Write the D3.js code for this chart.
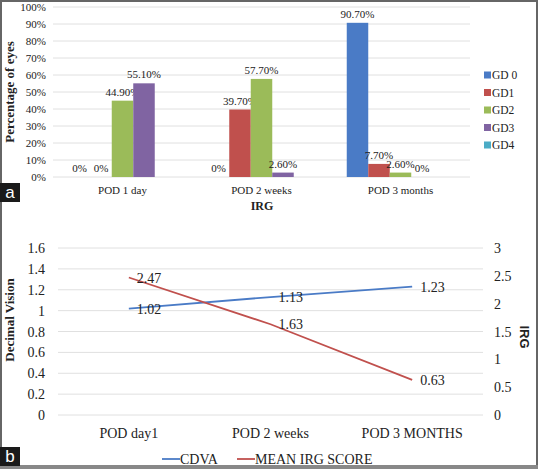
<!DOCTYPE html>
<html><head><meta charset="utf-8">
<script src="https://cdn.jsdelivr.net/npm/d3@7/dist/d3.min.js"></script>
<style>body{margin:0;background:#fff}svg{display:block}</style>
</head><body><svg id="c" width="538" height="469"></svg>
<script>
// Panel a data
const aCategories = ["POD 1 day", "POD 2 weeks", "POD 3 months"];
const aSeries = ["GD 0", "GD1", "GD2", "GD3", "GD4"];
const aColors = ["#4A7BC6", "#C0504D", "#9BBB59", "#8064A2", "#4BACC6"];
// values per series, per category (percent)
const gd0 = [0, 0, 90.7];
const gd1 = [0, 39.7, 7.7];
const gd2 = [44.9, 57.7, 2.6];
const gd3 = [55.1, 2.6, 0];
const gd4 = [null, null, null];
const aLabels = [
  ["0%", "0%", "90.70%"],
  ["0%", "39.70%", "7.70%"],
  ["44.90%", "57.70%", "2.60%"],
  ["55.10%", "2.60%", "0%"],
  [null, null, null]
];
const aTicks = [0,10,20,30,40,50,60,70,80,90,100];

// Panel b data
const bCategories = ["POD day1", "POD 2 weeks", "POD 3 MONTHS"];
const cdva = [1.02, 1.13, 1.23];
const irgScore = [2.47, 1.63, 0.63];
const bLeftTicks = [0,0.2,0.4,0.6,0.8,1,1.2,1.4,1.6];
const bRightTicks = [0,0.5,1,1.5,2,2.5,3];

const SERIF = "'Liberation Serif', 'Times New Roman', 'DejaVu Serif', serif";
const SANS = "'Liberation Sans', Arial, sans-serif";
const svg = d3.select("#c");
const aValues = [gd0, gd1, gd2, gd3, gd4];
function txt(g, size) {
  return g.append("text").style("font-family", SERIF).style("font-size", size + "px").style("fill", "#222");
}

// ---------- Panel a ----------
const ax = d3.scaleBand().domain(aCategories).range([53, 470]);
const ay = d3.scaleLinear().domain([0, 100]).range([177, 7]);
const barW = 21.5;
const inner = d3.scaleBand().domain(aSeries).range([-barW*2.5, barW*2.5]);

const ga = svg.append("g");
aTicks.forEach(d => {
  ga.append("line").attr("x1", 53).attr("x2", 470)
    .attr("y1", ay(d)).attr("y2", ay(d))
    .attr("stroke", "#e0e0e0").attr("stroke-width", 1);
  txt(ga, 11).attr("x", 46).attr("y", ay(d) + 4).attr("text-anchor", "end").text(d + "%");
});

aSeries.forEach((s, si) => {
  aCategories.forEach((c, ci) => {
    const v = aValues[si][ci];
    if (v === null) return;
    const x0 = ax(c) + ax.bandwidth()/2 + inner(s);
    if (v > 0) {
      ga.append("rect").attr("x", x0).attr("width", barW)
        .attr("y", ay(v)).attr("height", ay(0) - ay(v))
        .attr("fill", aColors[si]);
    }
    txt(ga, 11).attr("x", x0 + barW/2).attr("y", ay(v) - 5)
      .attr("text-anchor", "middle").text(aLabels[si][ci]);
  });
});
aCategories.forEach(d => {
  txt(ga, 11).attr("x", ax(d) + ax.bandwidth()/2).attr("y", 194).attr("text-anchor", "middle").text(d);
});
txt(ga, 12).attr("x", 262).attr("y", 210).attr("text-anchor", "middle")
  .style("font-weight", "bold").text("IRG");
txt(ga, 13).attr("transform", "translate(14,92) rotate(-90)")
  .attr("text-anchor", "middle").style("font-weight", "bold").text("Percentage of eyes");
// legend a
aSeries.forEach((s, i) => {
  const y = 75 + i * 17.5;
  ga.append("rect").attr("x", 484).attr("y", y - 3.5).attr("width", 7).attr("height", 7).attr("fill", aColors[i]);
  txt(ga, 11.5).attr("x", 492).attr("y", y + 4).text(s);
});

// ---------- Panel b ----------
const bx = d3.scaleBand().domain(bCategories).range([58, 483]);
const byL = d3.scaleLinear().domain([0, 1.6]).range([415, 248]);
const byR = d3.scaleLinear().domain([0, 3]).range([415, 248]);
const gb = svg.append("g");
bLeftTicks.forEach(d => {
  gb.append("line").attr("x1", 58).attr("x2", 483)
    .attr("y1", byL(d)).attr("y2", byL(d))
    .attr("stroke", "#e0e0e0").attr("stroke-width", 1);
  txt(gb, 14).attr("x", 45).attr("y", byL(d) + 5).attr("text-anchor", "end").text(d);
});
bRightTicks.forEach(d => {
  txt(gb, 14).attr("x", 494).attr("y", byR(d) + 5).text(d);
});
bCategories.forEach(d => {
  txt(gb, 14).attr("x", bx(d) + bx.bandwidth()/2).attr("y", 438).attr("text-anchor", "middle").text(d);
});

const cx = i => bx(bCategories[i]) + bx.bandwidth()/2;
const lineL = d3.line().x((d, i) => cx(i)).y(d => byL(d));
const lineR = d3.line().x((d, i) => cx(i)).y(d => byR(d));
gb.append("path").attr("d", lineL(cdva)).attr("fill", "none").attr("stroke", "#4A7BC6").attr("stroke-width", 1.8);
gb.append("path").attr("d", lineR(irgScore)).attr("fill", "none").attr("stroke", "#C0504D").attr("stroke-width", 1.8);
cdva.forEach((v, i) => {
  txt(gb, 14).attr("x", cx(i) + 8).attr("y", byL(v) + 5).text(v.toFixed(2));
});
irgScore.forEach((v, i) => {
  txt(gb, 14).attr("x", cx(i) + 8).attr("y", byR(v) + 5).text(v.toFixed(2));
});
txt(gb, 13).attr("transform", "translate(14,320) rotate(-90)")
  .attr("text-anchor", "middle").style("font-weight", "bold").text("Decimal Vision");
txt(gb, 13).attr("transform", "translate(520,337) rotate(90)")
  .attr("text-anchor", "middle").style("font-weight", "bold")
  .style("font-family", SANS).text("IRG");
// legend b
const legB = [["CDVA", "#4A7BC6", 162], ["MEAN IRG SCORE", "#C0504D", 237]];
legB.forEach(([t, c, x]) => {
  gb.append("line").attr("x1", x).attr("x2", x + 18).attr("y1", 459).attr("y2", 459).attr("stroke", c).attr("stroke-width", 1.8);
  txt(gb, 14).attr("x", x + 18).attr("y", 464).text(t);
});

// frame and panel tags
svg.append("rect").attr("x", 1).attr("y", 1).attr("width", 536).attr("height", 465)
  .attr("fill", "none").attr("stroke", "#666").attr("stroke-width", 2);
svg.append("rect").attr("x", 0).attr("y", 465).attr("width", 538).attr("height", 4).attr("fill", "#888");
[["a", 183], ["b", 447]].forEach(([t, y]) => {
  svg.append("rect").attr("x", 0).attr("y", y).attr("width", 20).attr("height", 19).attr("fill", "#1a1a1a");
  svg.append("text").attr("x", 10).attr("y", y + 15).attr("text-anchor", "middle")
    .style("font-size", "17px").style("font-family", SANS)
    .style("fill", "#fff").text(t);
});
</script></body></html>
